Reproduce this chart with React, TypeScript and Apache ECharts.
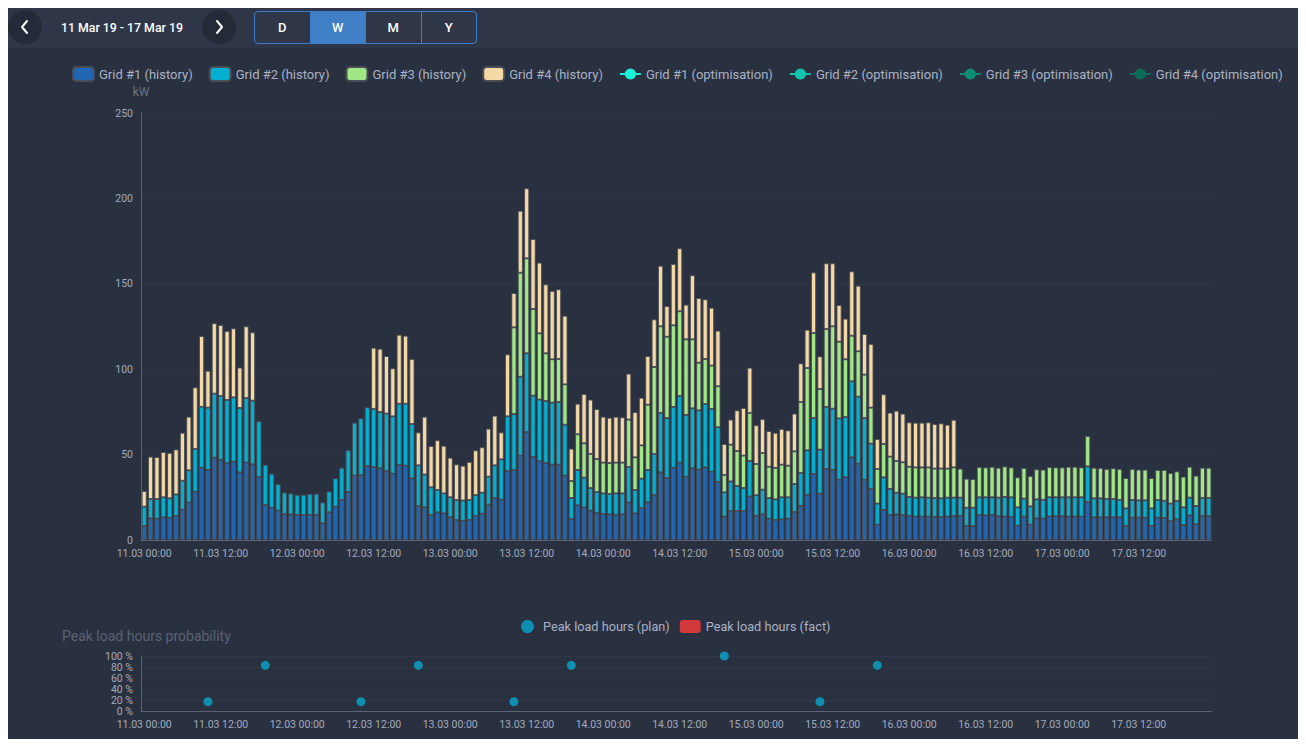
import React, { useEffect, useRef } from "react";
import * as echarts from "echarts";

const DAYS = ["11.03", "12.03", "13.03", "14.03", "15.03", "16.03", "17.03"];
const HOURS = Array.from({ length: 24 }, (_, h) => String(h).padStart(2, "0") + ":00");
const CATEGORIES = DAYS.flatMap((d) => HOURS.map((h) => `${d} ${h}`));

const N = null;

const GRID1 = [
  8.2, 12.7, 12.5, 13.3, 13.0, 14.0, 17.8, 21.9, 28.3, 42.3, 41.0, 48.2, 47.0, 45.0, 45.9, 39.6, 45.3, 44.3,
  36.9, 20.5, 18.9, 17.2, 15.1, 15.0, 14.7, 14.6, 14.8, 14.8, 9.8, 16.2, 19.5, 23.4, 28.1, 37.7, 37.9, 43.3,
  42.7, 42.0, 40.4, 38.8, 43.9, 43.5, 36.1, 19.9, 19.1, 14.6, 16.2, 15.6, 13.3, 11.7, 11.2, 11.7, 14.1, 15.4,
  20.7, 24.6, 23.6, 40.4, 41.0, 49.4, 63.2, 48.6, 46.1, 45.1, 44.1, 44.1, 37.7, 12.3, 20.3, 19.1, 17.2, 15.8,
  15.2, 15.0, 14.8, 15.0, 21.9, 15.6, 18.7, 22.1, 26.3, 39.6, 36.3, 42.3, 45.3, 37.1, 42.0, 41.2, 42.5, 40.0,
  34.0, 13.7, 17.0, 17.0, 17.0, 25.4, 14.1, 15.0, 12.5, 11.7, 12.1, 12.5, 16.4, 19.9, 26.5, 38.6, 27.1, 41.6,
  41.0, 35.3, 36.7, 48.4, 44.7, 35.3, 29.9, 9.0, 17.6, 14.6, 15.0, 14.6, 14.1, 13.7, 13.7, 13.7, 13.5, 13.5,
  13.7, 14.1, 14.1, 8.2, 8.2, 14.6, 14.4, 14.6, 13.9, 13.7, 13.5, 8.4, 13.7, 9.0, 12.7, 12.5, 13.8, 13.9,
  13.9, 13.7, 13.7, 13.7, 22.2, 13.3, 13.3, 13.3, 13.3, 13.3, 8.2, 13.1, 13.1, 13.1, 8.2, 13.1, 12.9, 11.1,
  12.1, 8.8, 14.4, 9.2, 13.9, 13.9,
];

const GRID2 = [
  11.3, 11.3, 11.5, 11.7, 11.4, 12.7, 16.9, 18.9, 25.0, 35.7, 36.5, 37.5, 37.3, 37.0, 37.6, 37.7, 37.8, 37.3,
  32.6, 23.6, 19.9, 15.6, 12.7, 12.3, 11.8, 11.9, 12.1, 12.3, 12.2, 12.3, 16.6, 18.9, 24.4, 31.0, 33.3, 34.4,
  34.0, 32.9, 33.6, 33.6, 35.9, 36.3, 31.8, 23.8, 19.2, 16.2, 13.1, 11.7, 11.7, 11.7, 11.9, 11.8, 12.2, 12.3,
  16.4, 19.1, 23.6, 32.0, 32.8, 46.2, 46.1, 35.9, 36.1, 36.3, 36.3, 36.7, 29.8, 12.3, 20.7, 17.4, 13.2, 12.3,
  12.1, 11.9, 12.5, 12.3, 20.8, 13.7, 17.2, 18.9, 24.1, 34.8, 35.1, 35.6, 39.0, 36.1, 35.1, 34.7, 37.1, 36.7,
  32.0, 14.2, 17.3, 14.6, 13.4, 20.9, 12.1, 14.5, 12.1, 12.1, 12.9, 12.5, 16.4, 19.3, 26.0, 32.8, 25.8, 36.3,
  35.9, 35.9, 35.3, 44.5, 39.2, 36.1, 26.5, 12.3, 19.1, 15.3, 12.7, 12.5, 11.1, 11.1, 11.3, 11.1, 11.1, 10.9,
  11.1, 10.7, 10.7, 10.7, 10.7, 10.4, 10.6, 10.4, 10.9, 11.5, 11.5, 10.7, 10.5, 10.7, 11.1, 11.0, 11.2, 11.1,
  11.1, 11.3, 11.3, 11.3, 20.9, 11.1, 11.1, 10.7, 10.7, 10.1, 10.3, 10.3, 10.1, 10.1, 10.3, 10.3, 10.1, 10.2,
  10.7, 10.3, 10.4, 10.7, 10.7, 10.7,
];

const GRID3 = [
  N, N, N, N, N, N, N, N, N, N, N, N, N, N, N, N, N, N,
  N, N, N, N, N, N, N, N, N, N, N, N, N, N, N, N, N, N,
  N, N, N, N, N, N, N, N, N, N, N, N, N, N, N, N, N, N,
  N, N, N, N, 50.7, 60.9, 55.6, 50.7, 38.8, 27.9, 25.4, 25.2, 23.6, 9.9, 20.9, 20.1, 20.0, 19.3,
  18.0, 18.2, 18.0, 18.0, 27.8, 19.1, 19.5, 38.2, 50.9, 50.7, 47.6, 47.8, 49.6, 44.3, 40.4, 27.9, 26.4, 25.4,
  24.0, 10.2, 21.5, 20.5, 19.0, 28.1, 18.3, 21.4, 18.3, 18.4, 19.1, 18.5, 19.1, 41.6, 48.2, 49.8, 35.5, 45.6,
  48.2, 44.9, 33.8, 26.7, 26.6, 25.4, 21.1, 20.3, 19.5, 18.9, 18.6, 18.4, 17.7, 17.7, 17.5, 17.7, 17.2, 17.4,
  17.0, 17.7, 17.0, 17.0, 16.8, 17.7, 17.5, 17.9, 17.5, 17.9, 17.5, 17.6, 18.0, 17.8, 17.6, 17.7, 17.7, 17.5,
  17.5, 17.9, 17.9, 17.5, 17.8, 17.9, 17.8, 17.6, 18.0, 18.2, 17.8, 18.2, 18.0, 18.0, 17.8, 17.6, 18.0, 17.9,
  17.4, 18.0, 18.1, 17.8, 17.7, 17.7,
];

const GRID4 = [
  9.2, 24.8, 24.6, 26.5, 26.6, 26.3, 28.1, 31.4, 36.1, 41.4, 21.6, 41.2, 41.6, 40.4, 40.4, 23.7, 42.0, 40.0,
  N, N, N, N, N, N, N, N, N, N, N, N, N, N, N, N, N, N,
  35.9, 37.1, 33.7, 28.1, 40.4, 39.8, 38.1, 19.3, 33.9, 24.2, 29.1, 27.9, 23.2, 20.9, 20.4, 22.2, 26.2, 26.6,
  28.1, 29.1, 15.8, 36.3, 20.1, 36.3, 41.0, 41.0, 41.4, 40.4, 40.0, 40.8, 40.2, 19.0, 17.9, 28.9, 31.8, 29.3,
  26.9, 26.5, 26.9, 26.5, 26.9, 26.5, 27.9, 28.5, 27.9, 35.5, 18.0, 35.9, 36.9, 20.3, 37.5, 37.9, 34.9, 33.9,
  32.6, 18.1, 14.7, 23.8, 27.9, 26.5, 22.7, 19.9, 20.9, 20.6, 20.9, 20.7, 22.1, 22.6, 22.4, 35.5, 19.1, 38.5,
  36.9, 21.5, 23.8, 37.7, 38.4, 23.8, 37.3, 17.5, 29.1, 25.8, 29.4, 28.5, 26.0, 26.2, 26.2, 26.4, 26.1, 26.5,
  25.7, 27.9, N, N, N, N, N, N, N, N, N, N, N, N, N, N, N, N,
  N, N, N, N, N, N, N, N, N, N, N, N, N, N, N, N, N, N,
  N, N, N, N, N, N,
];

const PEAK_PLAN: [string, number][] = [
  ["11.03 10:00", 17], ["11.03 19:00", 83],
  ["12.03 10:00", 17], ["12.03 19:00", 83],
  ["13.03 10:00", 17], ["13.03 19:00", 83],
  ["14.03 19:00", 100],
  ["15.03 10:00", 17], ["15.03 19:00", 83],
];
const PEAK_FACT: [string, number][] = [];

const HISTORY_NAMES = ["Grid #1 (history)", "Grid #2 (history)", "Grid #3 (history)", "Grid #4 (history)"];
const OPT_NAMES = ["Grid #1 (optimisation)", "Grid #2 (optimisation)", "Grid #3 (optimisation)", "Grid #4 (optimisation)"];
const HISTORY_COLORS = ["#2166b0", "#03b0d0", "#a2e786", "#f4d9a7"];
const OPT_COLORS = ["#1df0d9", "#12c3a9", "#0f8c74", "#0c6c5a"];
const PERIODS = ["D", "W", "M", "Y"];

const FONT = "Roboto, 'Noto Sans', sans-serif";
const AXIS_LINE = "#5a6378";
const LABEL = "#a3abbd";
const SPLIT = "rgba(255,255,255,0.03)";

function Chevron({ dir }: { dir: "l" | "r" }) {
  const pts = dir === "l" ? "10,4 5,10 10,16" : "6,4 11,10 6,16";
  return (
    <svg width="16" height="20" viewBox="0 0 16 20">
      <polyline points={pts} fill="none" stroke="#ffffff" strokeWidth="2" strokeLinecap="round" strokeLinejoin="round" />
    </svg>
  );
}

export default function App() {
  const ref = useRef<HTMLDivElement>(null);

  useEffect(() => {
    if (!ref.current) return;
    const chart = echarts.init(ref.current, null, { renderer: "svg" });
    const historySeries = [GRID1, GRID2, GRID3, GRID4].map((d, i) => ({
      name: HISTORY_NAMES[i],
      type: "bar",
      stack: "history",
      xAxisIndex: 0,
      yAxisIndex: 0,
      data: d,
      barCategoryGap: "20%",
      itemStyle: { color: HISTORY_COLORS[i], borderColor: "#4a4d55", borderWidth: 0.9 },
    }));
    const optSeries = OPT_NAMES.map((n, i) => ({
      name: n,
      type: "line",
      xAxisIndex: 0,
      yAxisIndex: 0,
      data: [],
      symbol: "circle",
      symbolSize: 8,
      itemStyle: { color: OPT_COLORS[i] },
      lineStyle: { color: OPT_COLORS[i], width: 2 },
    }));
    const xAxisBase = {
      type: "category",
      data: CATEGORIES,
      axisTick: { show: false },
      axisLine: { lineStyle: { color: AXIS_LINE } },
      axisLabel: { interval: 11, color: LABEL, fontSize: 10.5, fontFamily: FONT },
      splitLine: { show: false },
    };
    chart.setOption({
      animation: false,
      backgroundColor: "transparent",
      textStyle: { fontFamily: FONT },
      title: {
        text: "Peak load hours probability",
        left: 54,
        top: 621,
        padding: 0,
        textStyle: { color: "#5b6375", fontSize: 14, fontWeight: "normal", fontFamily: FONT },
      },
      legend: [
        {
          data: [...HISTORY_NAMES, ...OPT_NAMES],
          left: 64,
          top: 58,
          padding: 0,
          itemWidth: 21,
          itemHeight: 14,
          itemGap: 16,
          textStyle: { color: "#a9b2c4", fontSize: 13, fontFamily: FONT },
        },
        {
          data: ["Peak load hours (plan)", "Peak load hours (fact)"],
          left: 513,
          top: 612,
          padding: 0,
          itemWidth: 21,
          itemHeight: 13,
          itemGap: 10,
          textStyle: { color: "#a9b2c4", fontSize: 12.7, fontFamily: FONT },
        },
      ],
      grid: [
        { left: 133, right: 86, top: 105, bottom: 199 },
        { left: 133, right: 86, top: 648, bottom: 28 },
      ],
      xAxis: [
        { ...xAxisBase, gridIndex: 0 },
        { ...xAxisBase, gridIndex: 1 },
      ],
      yAxis: [
        {
          type: "value",
          gridIndex: 0,
          min: 0,
          max: 250,
          interval: 50,
          name: "kW",
          nameTextStyle: { color: "#6b7387", fontSize: 12, fontFamily: FONT },
          axisLine: { show: true, lineStyle: { color: AXIS_LINE } },
          axisTick: { show: false },
          axisLabel: { color: LABEL, fontSize: 10.5, fontFamily: FONT },
          splitLine: { lineStyle: { color: SPLIT } },
        },
        {
          type: "value",
          gridIndex: 1,
          min: 0,
          max: 100,
          interval: 20,
          axisLine: { show: true, lineStyle: { color: AXIS_LINE } },
          axisTick: { show: false },
          axisLabel: { color: LABEL, fontSize: 10.5, fontFamily: FONT, formatter: "{value} %" },
          splitLine: { lineStyle: { color: SPLIT } },
        },
      ],
      series: [
        ...historySeries,
        ...optSeries,
        {
          name: "Peak load hours (plan)",
          type: "scatter",
          xAxisIndex: 1,
          yAxisIndex: 1,
          data: PEAK_PLAN,
          symbolSize: 9,
          itemStyle: { color: "#07a7cb" },
        },
        {
          name: "Peak load hours (fact)",
          type: "bar",
          xAxisIndex: 1,
          yAxisIndex: 1,
          data: PEAK_FACT,
          itemStyle: { color: "#d1393b" },
        },
      ],
    });
    return () => chart.dispose();
  }, []);

  return (
    <div style={{ position: "relative", width: 1290, height: 731, background: "#293040", fontFamily: FONT }}>
      <div style={{ position: "absolute", left: 0, top: 0, width: 1290, height: 40, background: "#2f3648" }}>
        <div style={{ position: "absolute", left: 0, top: 2, width: 34, height: 34, borderRadius: 17, background: "#252a38", display: "flex", alignItems: "center", justifyContent: "center" }}>
          <Chevron dir="l" />
        </div>
        <div style={{ position: "absolute", left: 53, top: 0, height: 40, lineHeight: "40px", color: "#ffffff", fontSize: 12.3, fontWeight: 500, whiteSpace: "nowrap" }}>
          11 Mar 19 - 17 Mar 19
        </div>
        <div style={{ position: "absolute", left: 194, top: 2, width: 34, height: 34, borderRadius: 17, background: "#252a38", display: "flex", alignItems: "center", justifyContent: "center" }}>
          <Chevron dir="r" />
        </div>
        <div style={{ position: "absolute", left: 246, top: 3, width: 223, height: 33, boxSizing: "border-box", border: "1.5px solid #3d7dcc", borderRadius: 4, display: "flex", overflow: "hidden" }}>
          {PERIODS.map((p, i) => (
            <div
              key={p}
              style={{
                flex: 1,
                display: "flex",
                alignItems: "center",
                justifyContent: "center",
                color: "#ffffff",
                fontSize: 13,
                fontWeight: 500,
                background: p === "W" ? "#3f80c6" : "transparent",
                borderLeft: i === 0 ? "none" : "1.5px solid #3d7dcc",
              }}
            >
              {p}
            </div>
          ))}
        </div>
      </div>
      <div ref={ref} style={{ position: "absolute", left: 0, top: 0, width: 1290, height: 731 }} />
    </div>
  );
}
